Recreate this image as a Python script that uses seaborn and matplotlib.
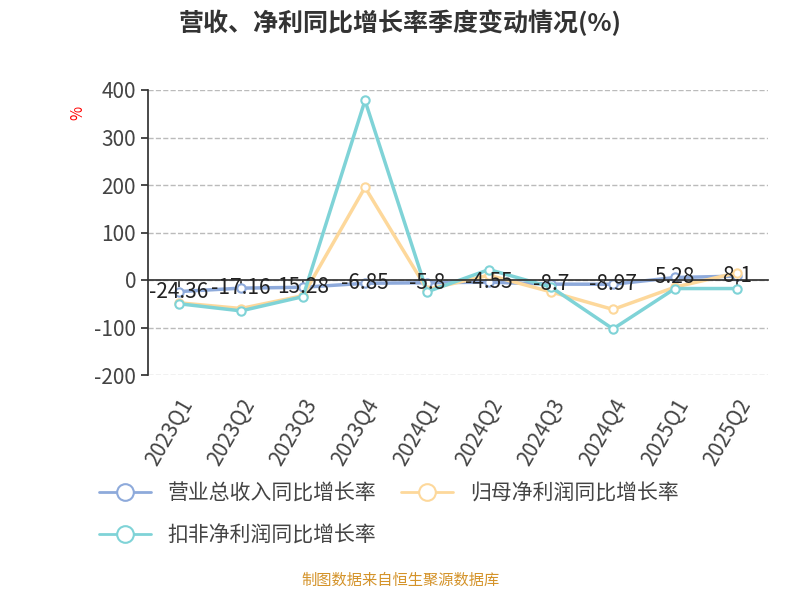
import matplotlib
matplotlib.use("Agg")
import matplotlib.pyplot as plt
import seaborn as sns
import pandas as pd
from matplotlib.lines import Line2D

quarters = ["2023Q1", "2023Q2", "2023Q3", "2023Q4", "2024Q1", "2024Q2",
            "2024Q3", "2024Q4", "2025Q1", "2025Q2"]
revenue = [-24.36, -17.16, -15.28, -6.85, -5.8, -4.55, -8.7, -8.97, 5.28, 8.1]
net_profit = [-48, -60, -33, 195, -20, 10, -25, -62, -15, 15]
deducted = [-50, -65, -35, 378, -25, 22, -15, -103, -18, -18]
rev_labels = ["-24.36", "-17.16", "15.28", "-6.85", "-5.8", "-4.55", "-8.7", "-8.97", "5.28", "8.1"]

names = ["营业总收入同比增长率", "归母净利润同比增长率", "扣非净利润同比增长率"]
colors = ["#8eaadb", "#fdd89b", "#7fd3d7"]

sns.set_theme(style="white")
plt.rcParams['font.family'] = ['Noto Sans CJK SC', 'DejaVu Sans']
plt.rcParams['axes.unicode_minus'] = False

fig = plt.figure(figsize=(8, 6), dpi=100)
ax = fig.add_axes([0.185, 0.375, 0.775, 0.475])
for vals, c in zip([revenue, net_profit, deducted], colors):
    d = pd.DataFrame({"q": quarters, "v": vals})
    sns.lineplot(data=d, x="q", y="v", color=c, ax=ax, sort=False,
                 marker="o", markersize=6, markerfacecolor="white",
                 markeredgecolor=c, markeredgewidth=1.5, linewidth=2.5, legend=False)

for i, t in enumerate(rev_labels):
    ax.text(i, revenue[i], t, ha="center", va="center", fontsize=15, color="#222222")

ax.set_ylim(-200, 400)
ax.set_yticks(range(-200, 401, 100))
ax.set_xlim(-0.5, 9.5)
ax.yaxis.grid(True, linestyle="--", color="#bbbbbb")
for s in ["top", "right"]:
    ax.spines[s].set_visible(False)
ax.spines["bottom"].set_position(("data", 0))
ax.spines["bottom"].set_color("#333333")
ax.spines["left"].set_color("#333333")
ax.tick_params(axis="x", bottom=True, length=5, color="#333333", pad=78)
ax.tick_params(axis="y", left=True, length=5, color="#333333", labelsize=15, labelcolor="#444444")
ax.set_xticks(range(10))
ax.set_xticklabels(quarters, rotation=60, ha="right", fontsize=15, color="#444444",
                   rotation_mode="anchor")
ax.set_xlabel("")
ax.set_ylabel("%", color="red", fontsize=11, rotation=90)
ax.yaxis.set_label_coords(-0.1, 0.92)

fig.text(0.5, 0.962, "营收、净利同比增长率季度变动情况(%)", ha="center", va="center",
         fontsize=18, fontweight="bold", color="#333333")

handles = [Line2D([], [], color=c, linewidth=2, marker="o", markersize=12,
                  markerfacecolor="white", markeredgecolor=c, markeredgewidth=1.5) for c in colors]
fig.legend(handles[:2], names[:2], loc="center left", bbox_to_anchor=(0.1, 0.178),
           ncol=2, frameon=False, fontsize=15, handlelength=2.5, columnspacing=1.2,
           labelcolor="#444444")
fig.legend(handles[2:], names[2:], loc="center left", bbox_to_anchor=(0.1, 0.108),
           frameon=False, fontsize=15, handlelength=2.5, labelcolor="#444444")

fig.text(0.5, 0.018, "制图数据来自恒生聚源数据库", ha="center", va="bottom",
         fontsize=11, color="#d4932a")

fig.savefig("out.png", dpi=100)
